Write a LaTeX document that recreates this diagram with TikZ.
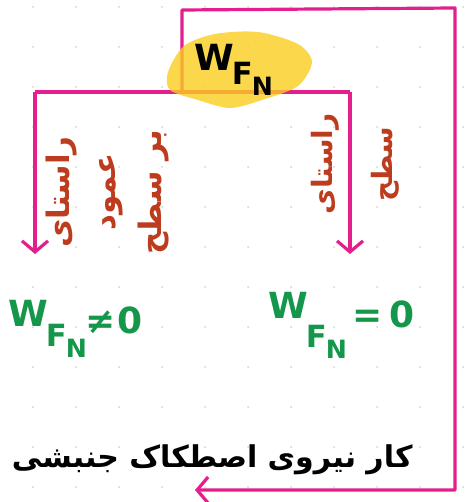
\documentclass[tikz,border=0pt]{standalone}
\usepackage{amsmath}
\usepackage{graphicx}
\usepackage{fontspec}
\usetikzlibrary{arrows.meta,positioning}
\TeXXeTstate=1
\newfontfamily\farsifont[Script=Arabic]{DejaVu Sans}
\newfontfamily\penfont{DejaVu Sans}
\definecolor{penpink}{RGB}{228,30,140}
\definecolor{penbrown}{RGB}{190,60,30}
\definecolor{pengreen}{RGB}{20,150,75}
\definecolor{hilite}{RGB}{250,205,30}
% W with F_N below it; #1 is how far F drops
\newcommand{\wfn}[1]{W\kern-2pt\raisebox{-#1}{\scalebox{0.85}{F}\kern-1pt\raisebox{-0.3em}{\scalebox{0.7}{N}}}}

\begin{document}
\begin{tikzpicture}[x=1pt,y=-1pt,
  branch/.style={penpink, line width=3.2pt, line join=round},
  arr/.style={branch, -{Straight Barb[length=11pt,width=26pt]}},
  farsi/.style 2 args={font=\farsifont\bfseries\fontsize{#1}{#2}\selectfont},
  wlabel/.style={font=\penfont\bfseries\fontsize{36}{40}\selectfont, inner sep=0pt}]
  \useasboundingbox (0,0) rectangle (464,502);

  % Paper dots
  \foreach \x in {33,76,...,463} {
    \foreach \y in {7,47,...,500} {
      \fill[gray!35] (\x,\y) circle (1pt);
    }
  }

  % Junction points
  \coordinate (jt) at (182,92);
  \coordinate (jl) at (35,92);
  \coordinate (jr) at (350,92);
  \coordinate (al) at (35,254);
  \coordinate (ar) at (350,254);
  \coordinate (back) at (195,490);

  % Branches
  \draw[branch] (jl) -- (jr);
  \draw[arr] (jl) -- (al);
  \draw[arr] (jr) -- (ar);
  \draw[arr] (jt) -- (182,10) -- (455,8) -- (455,490) -- (back);

  % Highlight
  \fill[hilite, fill opacity=0.8] plot[smooth cycle] coordinates
    {(168,72) (184,46) (215,34) (258,32) (298,44) (312,62) (298,86) (262,100) (230,108) (198,100) (170,90)};
  \node[wlabel, anchor=north west] (work) at (194,44) {\wfn{0.4em}};

  % Directions
  \node[farsi={31}{46}, penbrown, rotate=90, align=center] (perp) at (108,192)
    {\beginR راستای\endR\\ \beginR عمود\endR\\ \beginR بر سطح\endR};
  \node[farsi={28}{60}, penbrown, rotate=90, align=center] (along) at (355,164)
    {\beginR راستای\endR\\ \beginR سطح\endR};

  % Results
  \node[wlabel, pengreen, anchor=north west] (nonzero) at (8,300) {\wfn{0.55em}\kern-1pt\raisebox{-0.2em}{≠\kern1pt0}};
  \node[wlabel, pengreen, anchor=north west] (zero) at (268,292) {\wfn{0.8em}\,\raisebox{-0.25em}{=\,0}};

  % Kinetic friction
  \node[farsi={30}{40}, anchor=east] (kar) at (416,460) {\beginR کار نیروی اصطکاک جنبشی\endR};
\end{tikzpicture}
\end{document}
